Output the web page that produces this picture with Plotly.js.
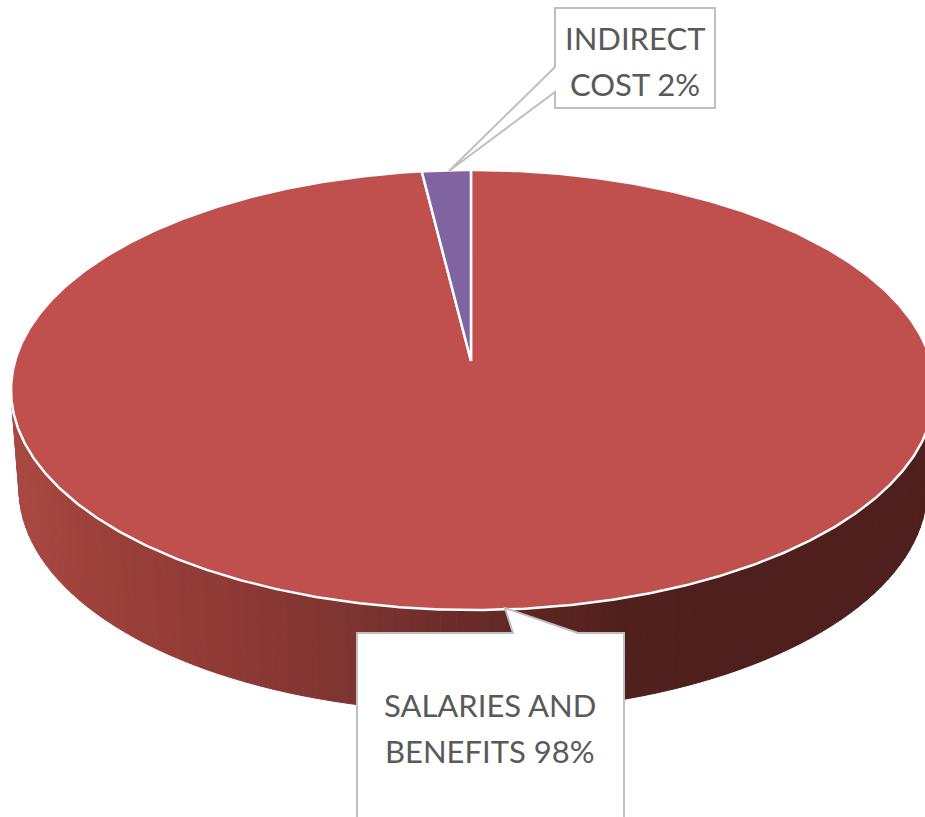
<!DOCTYPE html>
<html>
<head>
<meta charset="utf-8">
<script src="https://cdn.plot.ly/plotly-3.0.1.min.js"></script>
<style>html,body{margin:0;padding:0;background:#fff}#chart{width:925px;height:817px}</style>
</head>
<body>
<div id="chart"></div>
<script>
// Data
const categories = ["SALARIES AND BENEFITS", "INDIRECT COST"];
const shares = [98.3, 1.7];
const salariesLabelLines = ["SALARIES AND", "BENEFITS 98%"];
const indirectLabelLines = ["INDIRECT", "COST 2%"];
const sliceColors = ["#C0504D", "#8064A2"];

// Projection of the tilted disc on the page (axis units = pixels)
const W = 925, H = 817;
const topDisc = {cx: 473, cy: 390, rx: 462, ry: 220};
const baseDisc = {cx: 473, cy: 489, rx: 454, ry: 223};
const apex = {x: 471, y: 361};
const startDeg = -0.25;

// Shading of the side wall, left to right
const wallStopX = [20, 100, 250, 357, 500, 624, 720, 930];
const wallStopRGB = [[168,72,66],[156,64,58],[140,56,52],[124,52,48],[100,40,37],[80,32,29],[78,31,28],[78,31,28]];

function rim(d, deg) {
  const a = deg * Math.PI / 180;
  return [d.cx + d.rx * Math.sin(a), d.cy - d.ry * Math.cos(a)];
}
function wallColor(x) {
  let i = 0;
  while (i < wallStopX.length - 2 && x > wallStopX[i + 1]) i++;
  const f = Math.max(0, Math.min(1, (x - wallStopX[i]) / (wallStopX[i + 1] - wallStopX[i])));
  const c = wallStopRGB[i].map((v, k) => Math.round(v + f * (wallStopRGB[i + 1][k] - v)));
  return `rgb(${c.join(",")})`;
}

const traces = [];
// Side wall, as narrow vertical bands
const BANDS = 90;
for (let i = 0; i < BANDS; i++) {
  const a0 = 90 + 180 * i / BANDS, a1 = 90 + 180 * (i + 1) / BANDS;
  const t0 = rim(topDisc, a0), t1 = rim(topDisc, a1), b0 = rim(baseDisc, a0), b1 = rim(baseDisc, a1);
  const col = wallColor((t0[0] + t1[0]) / 2);
  traces.push({
    type: "scatter", mode: "lines", fill: "toself", fillcolor: col,
    x: [t0[0], t1[0], b1[0], b0[0], t0[0]],
    y: [t0[1], t1[1], b1[1], b0[1], t0[1]],
    line: {color: col, width: 1}, hoverinfo: "skip", showlegend: false
  });
}
// Top face: one wedge per share
const total = shares.reduce((a, b) => a + b, 0);
let acc = startDeg;
shares.forEach((v, i) => {
  const sweep = v / total * 360;
  const xs = [apex.x], ys = [apex.y];
  const n = Math.max(4, Math.ceil(sweep * 2));
  for (let k = 0; k <= n; k++) {
    const p = rim(topDisc, acc + sweep * k / n);
    xs.push(p[0]); ys.push(p[1]);
  }
  xs.push(apex.x); ys.push(apex.y);
  traces.push({
    type: "scatter", mode: "lines", fill: "toself", fillcolor: sliceColors[i],
    x: xs, y: ys, name: categories[i],
    line: {color: "#ffffff", width: 2.5}, hoverinfo: "name", showlegend: false
  });
  acc += sweep;
});

// Callout boxes
const calloutStyle = {type: "path", xref: "x", yref: "y", fillcolor: "#ffffff",
  line: {color: "#BFBFBF", width: 2}, layer: "above"};
const shapes = [
  Object.assign({}, calloutStyle, {path: "M357,830 L357,633 L513,633 L505,608 L578,633 L624,633 L624,830 Z"}),
  Object.assign({}, calloutStyle, {path: "M555,8 L715,8 L715,108 L555,108 L555,92 L449,171 L555,67 Z"})
];
const labelFont = {family: "Lato, Carlito, Calibri, sans-serif", size: 31, color: "#595959"};
function labelLine(x, y, text) {
  return {x, y, text, showarrow: false, xref: "x", yref: "y", font: labelFont, align: "center"};
}
const annotations = [
  labelLine(490, 705, salariesLabelLines[0]),
  labelLine(490, 751, salariesLabelLines[1]),
  labelLine(635, 38, indirectLabelLines[0]),
  labelLine(635, 84, indirectLabelLines[1])
];

Plotly.newPlot("chart", traces, {
  width: W, height: H,
  margin: {l: 0, r: 0, t: 0, b: 0},
  paper_bgcolor: "#ffffff", plot_bgcolor: "#ffffff",
  showlegend: false,
  xaxis: {range: [0, W], visible: false, fixedrange: true},
  yaxis: {range: [H, 0], visible: false, fixedrange: true},
  shapes, annotations
}, {displayModeBar: false, staticPlot: true});
</script>
</body>
</html>
